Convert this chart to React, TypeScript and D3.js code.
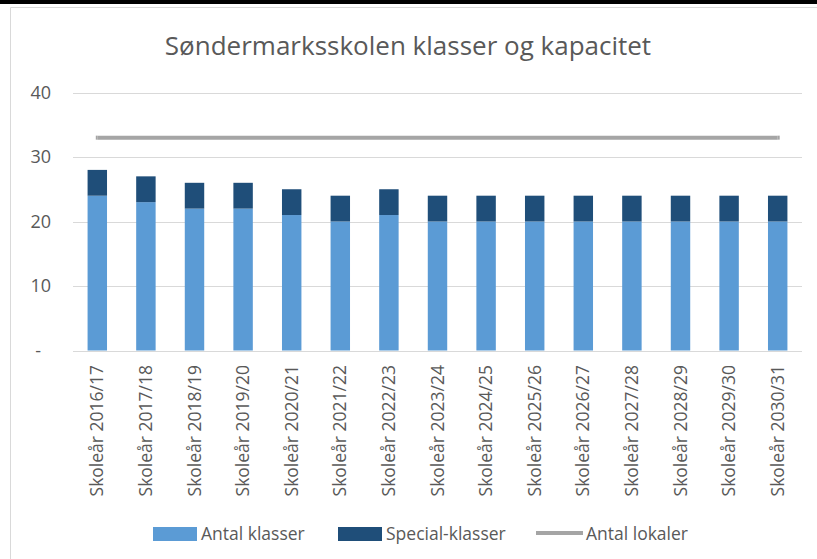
import React from "react";
import * as d3 from "d3";

const categories = [
  "Skoleår 2016/17", "Skoleår 2017/18", "Skoleår 2018/19", "Skoleår 2019/20",
  "Skoleår 2020/21", "Skoleår 2021/22", "Skoleår 2022/23", "Skoleår 2023/24",
  "Skoleår 2024/25", "Skoleår 2025/26", "Skoleår 2026/27", "Skoleår 2027/28",
  "Skoleår 2028/29", "Skoleår 2029/30", "Skoleår 2030/31",
];
const antalKlasser = [24, 23, 22, 22, 21, 20, 21, 20, 20, 20, 20, 20, 20, 20, 20];
const specialKlasser = [4, 4, 4, 4, 4, 4, 4, 4, 4, 4, 4, 4, 4, 4, 4];
const antalLokaler = [33, 33, 33, 33, 33, 33, 33, 33, 33, 33, 33, 33, 33, 33, 33];
const yTicks = [0, 10, 20, 30, 40];
const title = "Søndermarksskolen klasser og kapacitet";

const W = 817, H = 559;
const FONT = "'Open Sans', sans-serif";
const C_LIGHT = "#5B9BD5", C_DARK = "#1F4E79", C_GRAY = "#A5A5A5", GRID = "#D9D9D9", TXT = "#595959";

export default function App() {
  const x = d3.scaleBand<string>().domain(categories).range([73, 802]).paddingInner(0.6).paddingOuter(0.3);
  const y = d3.scaleLinear().domain([0, 40]).range([350.5, 92.5]);
  const bw = x.bandwidth();
  const line = d3.line<number>()
    .x((_, i) => (x(categories[i]) as number) + bw / 2)
    .y((d) => y(d));
  const first = (x(categories[0]) as number) + bw / 2;
  const last = (x(categories[categories.length - 1]) as number) + bw / 2;

  return (
    <svg width={W} height={H} style={{ position: "absolute", left: 0, top: 0, fontFamily: FONT }}>
      <rect x={0} y={0} width={W} height={H} fill="#fff" />
      <rect x={0} y={0} width={W} height={4} fill="#000" />
      <line x1={10.5} x2={W} y1={7.5} y2={7.5} stroke={GRID} />
      <line x1={10.5} x2={10.5} y1={7.5} y2={H} stroke={GRID} />
      <text x={408} y={55} textAnchor="middle" fontSize={26} fill={TXT}>{title}</text>
      {yTicks.map((t) => (
        <g key={t}>
          <line x1={73} x2={802} y1={Math.round(y(t)) + 0.5} y2={Math.round(y(t)) + 0.5} stroke={GRID} />
          <text x={t === 0 ? 41 : 51} y={y(t)} dy="0.35em" textAnchor="end" fontSize={18} fill={TXT}>
            {t === 0 ? "-" : t}
          </text>
        </g>
      ))}
      {categories.map((c, i) => {
        const bx = x(c) as number;
        return (
          <g key={c}>
            <rect x={bx} y={y(antalKlasser[i])} width={bw} height={y(0) - y(antalKlasser[i])} fill={C_LIGHT} />
            <rect x={bx} y={y(antalKlasser[i] + specialKlasser[i])} width={bw}
              height={y(antalKlasser[i]) - y(antalKlasser[i] + specialKlasser[i])} fill={C_DARK} />
            <text transform={`translate(${bx + bw / 2},365) rotate(-90)`} textAnchor="end" dy="0.35em"
              fontSize={17.5} fill={TXT}>{c}</text>
          </g>
        );
      })}
      <path d={line(antalLokaler) || ""} fill="none" stroke={C_GRAY} strokeWidth={4} />
      <line x1={first - 1.5} x2={first} y1={y(33)} y2={y(33)} stroke={C_GRAY} strokeWidth={4} />
      <line x1={last} x2={last + 2} y1={y(33)} y2={y(33)} stroke={C_GRAY} strokeWidth={4} />
      <g fontSize={17.5} fill={TXT}>
        <rect x={153} y={527} width={44} height={14} fill={C_LIGHT} />
        <text x={201} y={534} dy="0.35em">Antal klasser</text>
        <rect x={338} y={527} width={44} height={14} fill={C_DARK} />
        <text x={386} y={534} dy="0.35em">Special-klasser</text>
        <line x1={536} x2={583} y1={533} y2={533} stroke={C_GRAY} strokeWidth={4} />
        <text x={586} y={534} dy="0.35em">Antal lokaler</text>
      </g>
    </svg>
  );
}
